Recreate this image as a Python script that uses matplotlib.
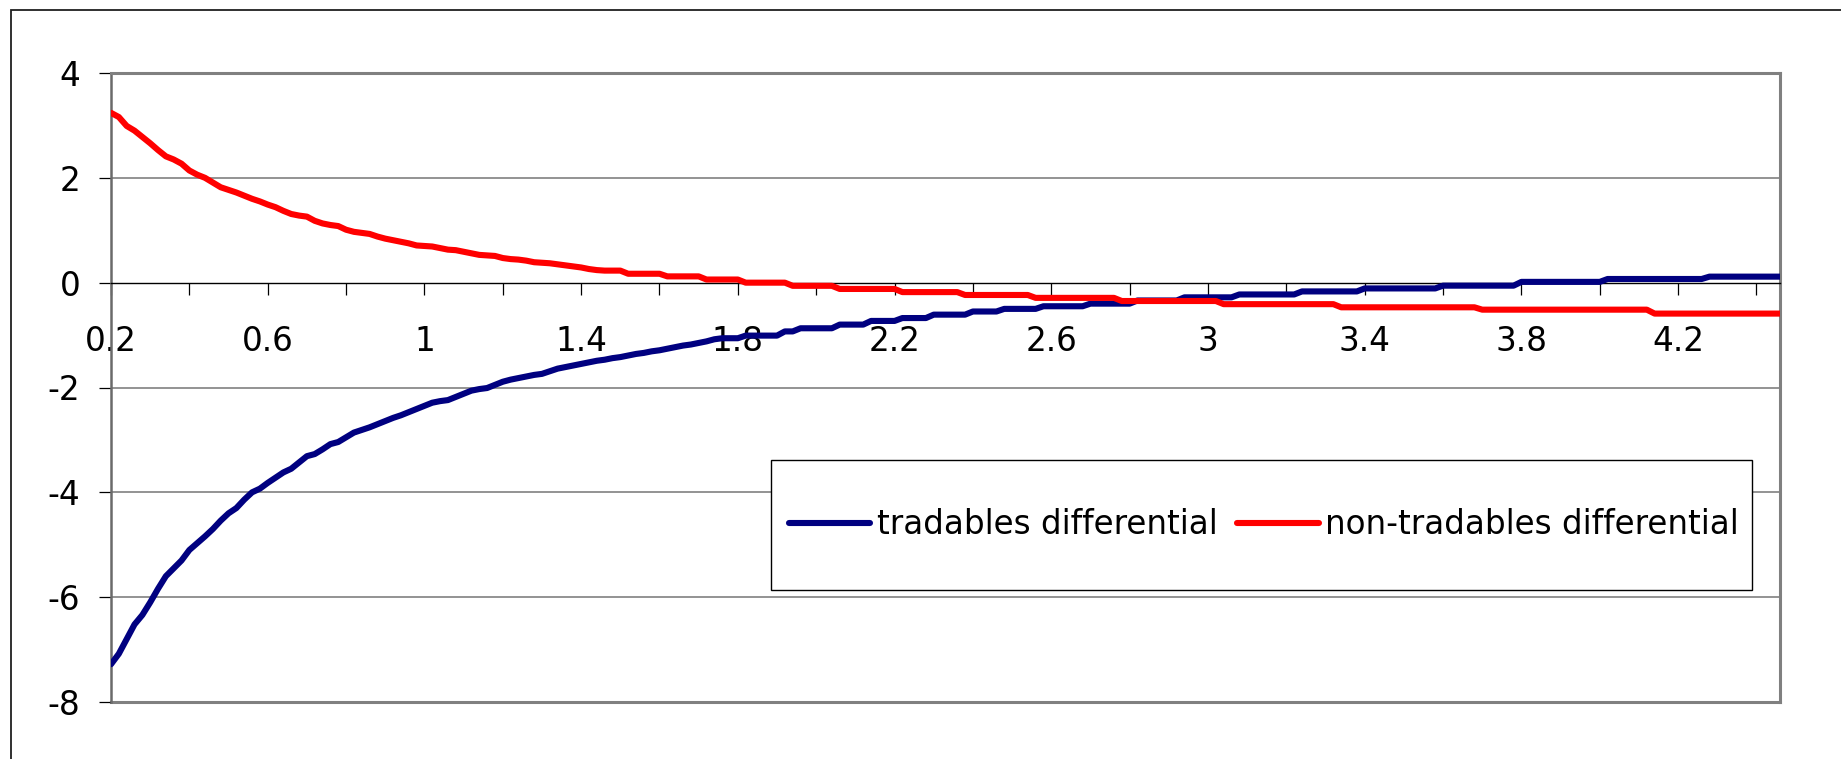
import numpy as np
import matplotlib
matplotlib.use("Agg")
import matplotlib.pyplot as plt
from matplotlib.patches import Rectangle
from matplotlib.lines import Line2D

# Category axis: 0.20, 0.22, ... 4.46
x_start, x_step, n_points = 0.2, 0.02, 214
x = np.round(x_start + x_step * np.arange(n_points), 2)

tradables = (
    [-7.28, -7.08, -6.80, -6.52, -6.34, -6.10, -5.84, -5.60, -5.45, -5.30,
     -5.10, -4.97, -4.84, -4.70, -4.54, -4.40, -4.30, -4.14, -4.00, -3.93,
     -3.82, -3.72, -3.62, -3.55, -3.43, -3.31, -3.27, -3.18, -3.08, -3.04,
     -2.95, -2.86, -2.81, -2.76, -2.70, -2.64, -2.58, -2.53, -2.47, -2.41,
     -2.35, -2.29, -2.26, -2.24, -2.18, -2.12, -2.06, -2.03, -2.01, -1.95,
     -1.89, -1.85, -1.82, -1.79, -1.76, -1.74, -1.69, -1.64, -1.61, -1.58,
     -1.55, -1.52, -1.49, -1.47, -1.44, -1.42, -1.39, -1.36, -1.34, -1.31,
     -1.29, -1.26, -1.23, -1.20, -1.18, -1.15, -1.12, -1.08]
    + [-1.06] * 3 + [-1.01] * 5 + [-0.93] * 2 + [-0.87] * 5 + [-0.80] * 4
    + [-0.73] * 4 + [-0.675] * 4 + [-0.61] * 5 + [-0.55] * 4 + [-0.50] * 5
    + [-0.45] * 6 + [-0.40] * 6 + [-0.34] * 6 + [-0.28] * 7 + [-0.225] * 8
    + [-0.167] * 8 + [-0.11] * 10 + [-0.057] * 10 + [0.015] * 11
    + [0.07] * 13 + [0.115] * 10
)

non_tradables = (
    [3.24, 3.16, 2.99, 2.90, 2.78, 2.66, 2.53, 2.41, 2.35, 2.27,
     2.14, 2.06, 2.00, 1.91, 1.82, 1.77, 1.72, 1.66, 1.60, 1.55,
     1.49, 1.44, 1.37, 1.31, 1.28, 1.26, 1.18, 1.13, 1.10, 1.08,
     1.01, 0.97, 0.95, 0.93, 0.88, 0.84, 0.81, 0.78, 0.75, 0.71,
     0.70, 0.69, 0.66, 0.63, 0.62, 0.59, 0.56, 0.53, 0.52, 0.51,
     0.47, 0.45, 0.44, 0.42, 0.39, 0.38, 0.37, 0.35, 0.33, 0.31,
     0.29, 0.26, 0.24]
    + [0.23] * 3 + [0.17] * 5 + [0.12] * 5 + [0.06] * 5 + [0.0] * 6
    + [-0.06] * 6 + [-0.12] * 8 + [-0.18] * 8 + [-0.235] * 9 + [-0.29] * 11
    + [-0.35] * 13 + [-0.41] * 15 + [-0.47] * 18 + [-0.515] * 22
    + [-0.59] * 17
)

series_names = ["tradables differential", "non-tradables differential"]
series_colors = ["#000080", "#FF0000"]

x_label_pos = [0.2, 0.6, 1.0, 1.4, 1.8, 2.2, 2.6, 3.0, 3.4, 3.8, 4.2]
x_tick_labels = ["0.2", "0.6", "1", "1.4", "1.8", "2.2", "2.6", "3", "3.4", "3.8", "4.2"]
x_minor_pos = [0.4, 0.8, 1.2, 1.6, 2.0, 2.4, 2.8, 3.2, 3.6, 4.0, 4.4]
y_ticks = [4, 2, 0, -2, -4, -6, -8]
y_tick_labels = ["4", "2", "0", "-2", "-4", "-6", "-8"]

plt.rcParams["font.family"] = ["DejaVu Sans"]
FS = 23.5

W, H = 1841, 759
fig = plt.figure(figsize=(W / 100, H / 100), dpi=100)
fig.patch.set_facecolor("white")

# outer chart frame
fig.add_artist(Rectangle((11 / W, -0.05), 1.2, (H - 10) / H + 0.05,
                         transform=fig.transFigure, fill=False,
                         edgecolor="#202020", lw=1.3))

ax = fig.add_axes([111 / W, 57 / H, 1669 / W, 629 / H])
ax.set_facecolor("white")

for yv in [4, 2, -2, -4, -6]:
    ax.axhline(yv, color="#808080", lw=1.2, zorder=0.5)
ax.axhline(-8, color="#808080", lw=2.2, zorder=0.6, clip_on=False)

ax.plot(x, tradables, color=series_colors[0], lw=4.4,
        solid_joinstyle="round", solid_capstyle="round", zorder=3)
ax.plot(x, non_tradables, color=series_colors[1], lw=4.4,
        solid_joinstyle="round", solid_capstyle="round", zorder=3)

ax.set_xlim(x[0], x[-1])
ax.set_ylim(-8, 4)

ax.spines["left"].set_color("#6a6a6a")
ax.spines["left"].set_linewidth(1.8)
for s in ["top", "right"]:
    ax.spines[s].set_color("#808080")
    ax.spines[s].set_linewidth(2.2)
ax.spines["bottom"].set_position(("data", 0))
ax.spines["bottom"].set_color("black")
ax.spines["bottom"].set_linewidth(1.0)

ax.set_yticks(y_ticks)
ax.set_yticklabels(y_tick_labels)
ax.tick_params(axis="y", direction="out", length=8.6, width=0.9,
               color="black", pad=13.5, labelsize=FS)

ax.set_xticks(x_label_pos)
ax.set_xticklabels(x_tick_labels)
ax.set_xticks(x_minor_pos, minor=True)
ax.tick_params(axis="x", which="both", direction="out", length=8.6,
               width=0.9, color="black", pad=22, labelsize=FS)

# legend box
bx0, bx1 = (771 - 111) / 1669, (1752 - 111) / 1669
by0, by1 = (702 - 590) / 629, (702 - 460) / 629
ax.add_patch(Rectangle((bx0, by0), bx1 - bx0, by1 - by0, transform=ax.transAxes,
                       facecolor="white", edgecolor="black", lw=1.0, zorder=5))
handles = [Line2D([], [], color=c, lw=4.4, solid_capstyle="round") for c in series_colors]
leg = ax.legend(handles, series_names, ncol=2, loc="center",
                bbox_to_anchor=((1264 - 111) / 1669, (702 - 525) / 629),
                frameon=False, fontsize=FS, handlelength=2.5,
                handletextpad=0.2, columnspacing=0.6, borderpad=0.0)
leg.set_zorder(6)

fig.savefig("out.png", dpi=100, facecolor="white")
